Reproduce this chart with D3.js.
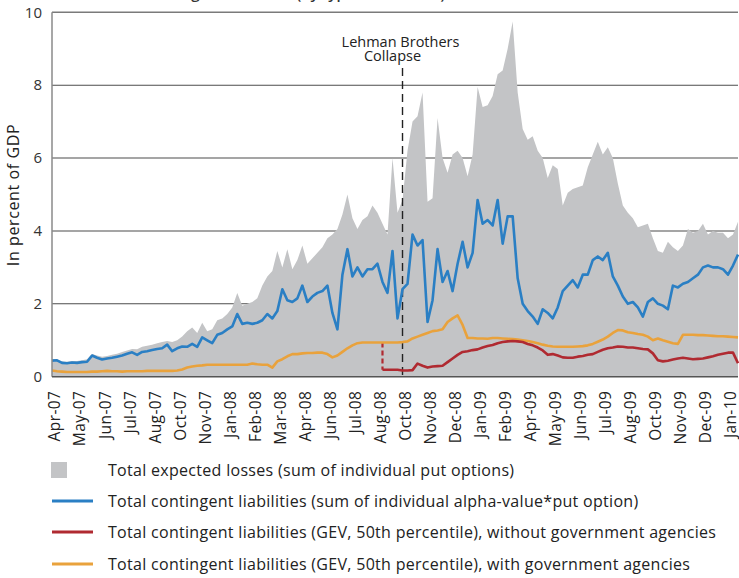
<!DOCTYPE html>
<html>
<head>
<meta charset="utf-8">
<script src="https://cdn.jsdelivr.net/npm/d3@7"></script>
<style>
  body { margin: 0; background: #fff; }
  svg { display: block; font-family: "Open Sans", "DejaVu Sans", sans-serif; }
</style>
</head>
<body>
<div id="chart"></div>
<script>
// tick labels, one every 25 trading days starting at day 3
const tickLabels = ["Apr-07","May-07","Jun-07","Jul-07","Aug-07","Oct-07","Nov-07","Jan-08","Feb-08","Mar-08",
  "Apr-08","Jun-08","Jul-08","Aug-08","Oct-08","Nov-08","Dec-08","Jan-09","Feb-09","Apr-09",
  "May-09","Jun-09","Jul-09","Aug-09","Oct-09","Nov-09","Dec-09","Jan-10"];

// series, sampled every 5 trading days (in percent of GDP)
const expectedLosses = [
  0.48,0.48,0.42,0.41,0.43,0.43,0.45,0.48,0.62,0.58, 0.55,0.57,0.60,0.63,0.68,0.72,0.76,0.75,0.82,0.85,
  0.88,0.92,0.95,0.98,0.95,1.00,1.10,1.25,1.35,1.20, 1.48,1.25,1.30,1.55,1.60,1.72,1.90,2.30,1.95,2.00,
  2.05,2.15,2.50,2.75,2.90,3.45,3.00,3.50,2.95,3.20, 3.60,3.10,3.25,3.40,3.55,3.80,3.90,4.05,4.45,5.00,
  4.35,4.05,4.30,4.40,4.70,4.50,4.20,3.90,6.00,4.50, 4.85,6.20,7.00,7.15,7.80,4.80,4.90,7.10,6.00,5.60,
  6.10,6.20,6.00,5.50,6.10,7.95,7.40,7.45,7.70,8.30, 8.40,9.00,9.75,7.80,6.80,6.50,6.60,6.20,6.00,5.45,
  5.80,5.70,4.70,5.05,5.15,5.20,5.25,5.75,6.10,6.45, 6.10,6.30,6.00,5.30,4.70,4.50,4.35,4.10,4.15,4.20,
  3.80,3.45,3.40,3.70,3.55,3.45,3.60,4.05,3.95,4.00, 4.20,3.90,4.00,3.95,3.95,3.80,3.90,4.25
];
const alphaLiabilities = [
  0.44,0.45,0.38,0.37,0.39,0.38,0.40,0.41,0.58,0.52, 0.47,0.50,0.52,0.55,0.58,0.63,0.67,0.60,0.68,0.70,
  0.73,0.76,0.78,0.88,0.70,0.78,0.83,0.82,0.90,0.82, 1.08,1.00,0.92,1.15,1.20,1.30,1.38,1.72,1.45,1.48,
  1.45,1.48,1.55,1.72,1.60,1.80,2.40,2.10,2.05,2.15, 2.50,2.05,2.20,2.30,2.35,2.50,1.75,1.30,2.80,3.50,
  2.75,3.00,2.75,2.95,2.95,3.10,2.60,2.30,3.45,1.60, 2.40,2.55,3.90,3.60,3.75,1.50,2.10,3.50,2.60,2.90,
  2.35,3.10,3.70,3.00,3.40,4.85,4.20,4.30,4.15,4.85, 3.65,4.40,4.40,2.70,2.00,1.80,1.65,1.45,1.85,1.75,
  1.60,1.90,2.35,2.50,2.65,2.45,2.80,2.80,3.20,3.30, 3.20,3.40,2.75,2.50,2.20,2.00,2.05,1.90,1.65,2.05,
  2.15,2.00,1.95,1.85,2.50,2.45,2.55,2.60,2.70,2.80, 3.00,3.05,3.00,3.00,2.95,2.80,3.05,3.35
];
const gevWithoutAgencies = [
  null,null,null,null,null,null,null,null,null,null, null,null,null,null,null,null,null,null,null,null,
  null,null,null,null,null,null,null,null,null,null, null,null,null,null,null,null,null,null,null,null,
  null,null,null,null,null,null,null,null,null,null, null,null,null,null,null,null,null,null,null,null,
  null,null,null,null,null,null,0.19,0.19,0.19,0.19, 0.17,0.17,0.18,0.36,0.30,0.25,0.28,0.29,0.30,0.40,
  0.50,0.60,0.68,0.70,0.73,0.75,0.80,0.84,0.87,0.92, 0.95,0.97,0.98,0.97,0.95,0.90,0.86,0.80,0.72,0.60,
  0.62,0.58,0.53,0.52,0.52,0.55,0.57,0.60,0.62,0.68, 0.74,0.78,0.80,0.83,0.82,0.80,0.80,0.78,0.76,0.75,
  0.64,0.45,0.42,0.44,0.47,0.50,0.52,0.50,0.48,0.49, 0.50,0.53,0.56,0.60,0.63,0.66,0.66,0.37
];
const gevWithAgencies = [
  0.17,0.15,0.14,0.13,0.13,0.13,0.13,0.13,0.14,0.14, 0.15,0.16,0.15,0.15,0.14,0.15,0.15,0.15,0.15,0.16,
  0.16,0.16,0.16,0.16,0.16,0.17,0.20,0.25,0.28,0.30, 0.31,0.33,0.33,0.33,0.33,0.33,0.33,0.33,0.33,0.33,
  0.36,0.34,0.33,0.33,0.25,0.42,0.48,0.56,0.62,0.62, 0.64,0.65,0.65,0.66,0.66,0.62,0.53,0.58,0.68,0.78,
  0.86,0.92,0.94,0.94,0.94,0.94,0.94,0.94,0.94,0.94, 0.95,0.97,1.05,1.10,1.15,1.20,1.25,1.27,1.30,1.50,
  1.60,1.68,1.42,1.06,1.06,1.05,1.05,1.04,1.06,1.06, 1.05,1.04,1.03,1.02,1.00,0.98,0.95,0.92,0.88,0.85,
  0.83,0.82,0.82,0.82,0.82,0.83,0.84,0.86,0.90,0.96, 1.02,1.10,1.20,1.28,1.27,1.22,1.20,1.17,1.15,1.10,
  1.00,1.05,1.00,0.96,0.92,0.90,1.15,1.15,1.15,1.14, 1.14,1.13,1.12,1.11,1.11,1.10,1.09,1.08
];
const legendLabels = [
  "Total expected losses (sum of individual put options)",
  "Total contingent liabilities (sum of individual alpha-value*put option)",
  "Total contingent liabilities (GEV, 50th percentile), without government agencies",
  "Total contingent liabilities (GEV, 50th percentile), with government agencies"
];
const yTicks = [0, 2, 4, 6, 8, 10];
const lehmanDay = 350;

const STEP = 5;
const width = 739, height = 578;
const plot = { left: 52, right: 738, top: 12.3, bottom: 376.7 };
const colors = { gray: "#c3c4c6", blue: "#2a7fc4", red: "#b02a31", orange: "#e9a23c" };

const svg = d3.select("#chart").append("svg")
  .attr("width", width).attr("height", height);

const xScale = d3.scaleLinear().domain([0, 685]).range([plot.left, plot.right]);
const yScale = d3.scaleLinear().domain([0, 10]).range([plot.bottom, plot.top]);

// cut-off title at the very top
svg.append("text")
  .attr("x", 55).attr("y", -1)
  .attr("font-size", 15).attr("font-weight", 600).attr("fill", "#333")
  .text("Evolution of contingent liabilities (by type of estimate)");

// gridlines
svg.append("g").selectAll("line")
  .data(yTicks.filter(d => d > 0))
  .enter().append("line")
  .attr("x1", plot.left).attr("x2", plot.right)
  .attr("y1", d => yScale(d)).attr("y2", d => yScale(d))
  .attr("stroke", d => d === 10 ? "#7a7a7a" : "#4d4d4d")
  .attr("stroke-width", d => d === 10 ? 1.5 : 1.1);

// expected losses area
const area = d3.area()
  .x((d, i) => xScale(i * STEP))
  .y0(yScale(0))
  .y1(d => yScale(d));
svg.append("path")
  .attr("d", area(expectedLosses))
  .attr("fill", colors.gray);

// Lehman marker
svg.append("line")
  .attr("x1", xScale(lehmanDay)).attr("x2", xScale(lehmanDay))
  .attr("y1", 68).attr("y2", plot.bottom)
  .attr("stroke", "#222").attr("stroke-width", 1.4)
  .attr("stroke-dasharray", "8,5");
svg.append("text")
  .attr("x", xScale(lehmanDay) - 2).attr("y", 47)
  .attr("text-anchor", "middle").attr("font-size", 14.5).attr("fill", "#222")
  .text("Lehman Brothers");
svg.append("text")
  .attr("x", xScale(lehmanDay) - 10).attr("y", 61)
  .attr("text-anchor", "middle").attr("font-size", 14.5).attr("fill", "#222")
  .text("Collapse");

const line = d3.line()
  .defined(d => d !== null)
  .x((d, i) => xScale(i * STEP))
  .y(d => yScale(d));

// dashed connector where the series without agencies starts
const redStart = gevWithoutAgencies.findIndex(d => d !== null);
svg.append("line")
  .attr("x1", xScale(redStart * STEP)).attr("x2", xScale(redStart * STEP))
  .attr("y1", yScale(gevWithAgencies[redStart])).attr("y2", yScale(gevWithoutAgencies[redStart]))
  .attr("stroke", colors.red).attr("stroke-width", 2.2)
  .attr("stroke-dasharray", "5,3");

[[gevWithAgencies, colors.orange], [gevWithoutAgencies, colors.red], [alphaLiabilities, colors.blue]]
  .forEach(([data, color]) => {
    svg.append("path")
      .attr("d", line(data))
      .attr("fill", "none")
      .attr("stroke", color)
      .attr("stroke-width", 2.6)
      .attr("stroke-linejoin", "round");
  });

// frame: left and bottom axis lines
svg.append("line")
  .attr("x1", plot.left).attr("x2", plot.left)
  .attr("y1", plot.top).attr("y2", plot.bottom)
  .attr("stroke", "#8a8a8a").attr("stroke-width", 1.5);
svg.append("line")
  .attr("x1", plot.left).attr("x2", plot.right)
  .attr("y1", plot.bottom).attr("y2", plot.bottom)
  .attr("stroke", "#555").attr("stroke-width", 1.5);

// Y axis labels
svg.append("g").selectAll("text")
  .data(yTicks)
  .enter().append("text")
  .attr("x", plot.left - 10).attr("y", d => yScale(d))
  .attr("dy", "0.35em").attr("text-anchor", "end")
  .attr("font-size", 15).attr("fill", "#333")
  .text(d => d);

svg.append("text")
  .attr("transform", `translate(19, 195) rotate(-90)`)
  .attr("text-anchor", "middle").attr("font-size", 16).attr("letter-spacing", 0.6)
  .attr("fill", "#222")
  .text("In percent of GDP");

// X axis labels
svg.append("g").selectAll("text")
  .data(tickLabels)
  .enter().append("text")
  .attr("transform", (d, i) => `translate(${xScale(3 + i * 25)}, ${plot.bottom + 14}) rotate(-90)`)
  .attr("dy", "0.35em").attr("text-anchor", "end")
  .attr("font-size", 15.5).attr("letter-spacing", 0.4).attr("fill", "#222")
  .text(d => d);

// legend
const legendY = [470, 501, 532, 564];
const legend = svg.append("g");
legend.append("rect")
  .attr("x", 51).attr("y", legendY[0] - 8).attr("width", 16).attr("height", 16)
  .attr("fill", colors.gray);
[colors.blue, colors.red, colors.orange].forEach((c, i) => {
  legend.append("line")
    .attr("x1", 52).attr("x2", 93)
    .attr("y1", legendY[i + 1]).attr("y2", legendY[i + 1])
    .attr("stroke", c).attr("stroke-width", 3);
});
legend.selectAll("text")
  .data(legendLabels)
  .enter().append("text")
  .attr("x", 108).attr("y", (d, i) => legendY[i])
  .attr("dy", "0.35em").attr("font-size", 16).attr("letter-spacing", 0.3).attr("fill", "#222")
  .text(d => d);
</script>
</body>
</html>
